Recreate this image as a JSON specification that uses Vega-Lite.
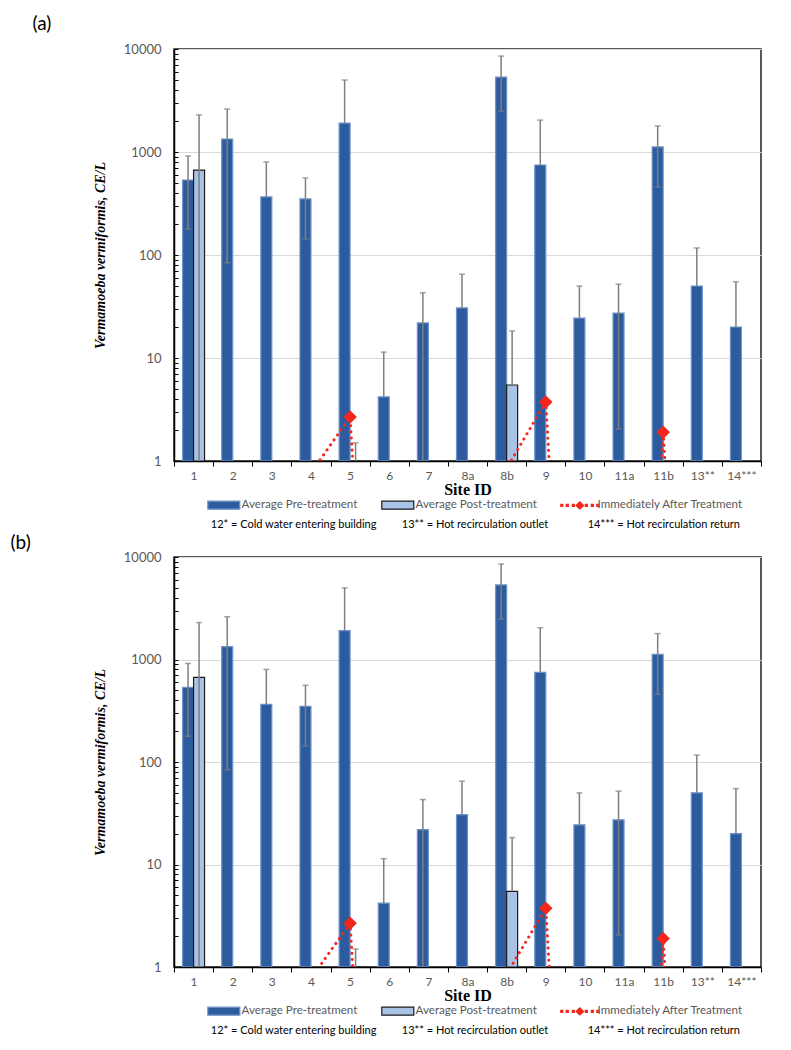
{
  "$schema": "https://vega.github.io/schema/vega-lite/v6.json",
  "background": "white",
  "padding": {"left": 10, "top": 15, "right": 5, "bottom": 5},
  "config": {
    "view": {"stroke": "#222222", "strokeWidth": 1.5},
    "font": "Lato",
    "legend": {"orient": "bottom", "direction": "horizontal"}
  },
  "datasets": {
    "bars": [
      {"site": "1", "series": "Average Pre-treatment", "value": 535, "lo": 178, "hi": 914},
      {"site": "1", "series": "Average Post-treatment", "value": 668, "lo": 0.5, "hi": 2290},
      {"site": "2", "series": "Average Pre-treatment", "value": 1337, "lo": 84, "hi": 2614},
      {"site": "3", "series": "Average Pre-treatment", "value": 366, "lo": 366, "hi": 800},
      {"site": "4", "series": "Average Pre-treatment", "value": 350, "lo": 143, "hi": 560},
      {"site": "5", "series": "Average Pre-treatment", "value": 1910, "lo": 1910, "hi": 5000},
      {"site": "5", "series": "Average Post-treatment", "value": 1, "lo": 1, "hi": 1.5},
      {"site": "6", "series": "Average Pre-treatment", "value": 4.2, "lo": 4.2, "hi": 11.4},
      {"site": "7", "series": "Average Pre-treatment", "value": 21.9, "lo": 0.5, "hi": 43},
      {"site": "8a", "series": "Average Pre-treatment", "value": 30.6, "lo": 30.6, "hi": 65},
      {"site": "8b", "series": "Average Pre-treatment", "value": 5340, "lo": 2490, "hi": 8540},
      {"site": "8b", "series": "Average Post-treatment", "value": 5.47, "lo": 5.47, "hi": 18.3},
      {"site": "9", "series": "Average Pre-treatment", "value": 748, "lo": 748, "hi": 2040},
      {"site": "10", "series": "Average Pre-treatment", "value": 24.4, "lo": 24.4, "hi": 50},
      {"site": "11a", "series": "Average Pre-treatment", "value": 27.3, "lo": 2.05, "hi": 52},
      {"site": "11b", "series": "Average Pre-treatment", "value": 1120, "lo": 457, "hi": 1790},
      {"site": "13**", "series": "Average Pre-treatment", "value": 50, "lo": 50, "hi": 117},
      {"site": "14***", "series": "Average Pre-treatment", "value": 20, "lo": 20, "hi": 55}
    ],
    "imm": [
      {"site": "1", "v": 0.000001},
      {"site": "2", "v": 0.000001},
      {"site": "3", "v": 0.000001},
      {"site": "4", "v": 0.77},
      {"site": "5", "v": 2.67},
      {"site": "6", "v": 0.000001},
      {"site": "7", "v": 0.000001},
      {"site": "8a", "v": 0.000001},
      {"site": "8b", "v": 0.85},
      {"site": "9", "v": 3.74},
      {"site": "10", "v": 0.000001},
      {"site": "11a", "v": 0.000001},
      {"site": "11b", "v": 1.9},
      {"site": "13**", "v": 0.000001},
      {"site": "14***", "v": 0.000001}
    ],
    "legend": [
      {"series": "Average Pre-treatment", "v": 0.000001},
      {"series": "Average Post-treatment", "v": 0.000001},
      {"series": "Immediately After Treatment", "v": 0.000001}
    ]
  },
  "spacing": 4,
  "resolve": {
    "scale": {"color": "independent", "stroke": "independent", "shape": "independent"},
    "legend": {"color": "independent", "stroke": "independent", "shape": "independent"}
  },
  "vconcat": [
    {
      "title": {"text": "(a)", "anchor": "start", "frame": "bounds", "font": "Lato", "fontSize": 19, "fontWeight": "normal", "color": "#000000", "dx": -60, "offset": 8},
      "resolve": {
        "scale": {"color": "independent", "stroke": "independent", "shape": "independent"},
        "legend": {"color": "independent", "stroke": "independent", "shape": "independent"}
      },
      "vconcat": [
        {
          "title": {"text": "12* = Cold water entering building\u00a0\u00a0\u00a0\u00a0\u00a0\u00a0\u00a0\u00a0\u00a013** = Hot recirculation outlet\u00a0\u00a0\u00a0\u00a0\u00a0\u00a0\u00a0\u00a0\u00a0\u00a0\u00a0\u00a0\u00a0\u00a014*** = Hot recirculation return", "orient": "bottom", "anchor": "middle", "frame": "bounds", "font": "Lato", "fontSize": 11, "fontWeight": "normal", "color": "#000000", "offset": 6, "dx": 48},
          "resolve": {
            "scale": {"color": "independent", "stroke": "independent", "shape": "independent"},
            "legend": {"color": "independent", "stroke": "independent", "shape": "independent"}
          },
          "vconcat": [
            {
              "width": 587,
              "height": 412,
              "encoding": {
                "x": {
                  "field": "site", "type": "ordinal",
                  "scale": {"domain": ["1","2","3","4","5","6","7","8a","8b","9","10","11a","11b","13**","14***"], "paddingInner": 0, "paddingOuter": 0},
                  "axis": {"title": "Site ID", "tickBand": "extent", "tickSize": 5, "tickColor": "#000000", "domainColor": "#000000", "domainWidth": 1.5, "labelAngle": 0, "labelColor": "#595959", "labelFont": "Lato", "labelFontSize": 12, "labelPadding": 4, "titleFont": "Liberation Serif", "titleFontWeight": "bold", "titleFontSize": 16, "titleColor": "#000000", "titlePadding": 0, "grid": false}
                }
              },
              "layer": [
                {
                  "data": {"name": "bars"},
                  "mark": {"type": "bar", "clip": true, "strokeWidth": 1.2},
                  "encoding": {
                    "xOffset": {"field": "series", "type": "nominal", "scale": {"domain": ["Average Pre-treatment", "Average Post-treatment"], "paddingInner": 0, "paddingOuter": 0.78}},
                    "y": {
                      "field": "value", "type": "quantitative",
                      "scale": {"type": "log", "domain": [1, 10000], "nice": false},
                      "axis": {
                        "title": "Vermamoeba vermiformis, CE/L",
                        "values": [1,2,3,4,5,6,7,8,9,10,20,30,40,50,60,70,80,90,100,200,300,400,500,600,700,800,900,1000,2000,3000,4000,5000,6000,7000,8000,9000,10000],
                        "labelExpr": "indexof([1,10,100,1000,10000], datum.value) >= 0 ? format(datum.value, 'd') : ''",
                        "tickSize": -4, "tickColor": "#000000", "domainColor": "#000000", "domainWidth": 1.5,
                        "labelColor": "#595959", "labelFont": "Lato", "labelFontSize": 13, "labelPadding": 17,
                        "grid": true, "gridColor": "#D9D9D9", "gridWidth": 1,
                        "gridOpacity": {"condition": {"test": "indexof([1,10,100,1000,10000], datum.value) >= 0", "value": 1}, "value": 0},
                        "titleFont": "Liberation Serif", "titleFontStyle": "italic", "titleFontWeight": "bold", "titleFontSize": 14, "titleColor": "#000000", "titlePadding": 16
                      }
                    },
                    "y2": {"datum": 1},
                    "color": {"field": "series", "type": "nominal", "scale": {"domain": ["Average Pre-treatment", "Average Post-treatment", "Immediately After Treatment"], "range": ["#2C5C9E", "#A9C3E7", "#F4261C"]}, "legend": {"title": "\u00a0\u00a0\u00a0\u00a0\u00a0\u00a0\u00a0\u00a0", "titleOrient": "left", "titleFontSize": 12, "titlePadding": 44, "orient": "bottom", "direction": "horizontal", "symbolSize": 64, "symbolStrokeWidth": 1.2, "labelFont": "Lato", "labelFontSize": 11.6, "labelColor": "#595959", "labelOffset": 12, "columnPadding": 21, "offset": 2, "padding": 0}},
                    "stroke": {"field": "series", "type": "nominal", "scale": {"domain": ["Average Pre-treatment", "Average Post-treatment", "Immediately After Treatment"], "range": ["#6F93C8", "#1A1A1A", "#F4261C"]}, "legend": {"title": "\u00a0\u00a0\u00a0\u00a0\u00a0\u00a0\u00a0\u00a0", "titleOrient": "left", "titleFontSize": 12, "titlePadding": 44, "orient": "bottom", "direction": "horizontal", "symbolSize": 64, "symbolStrokeWidth": 1.2, "labelFont": "Lato", "labelFontSize": 11.6, "labelColor": "#595959", "labelOffset": 12, "columnPadding": 21, "offset": 2, "padding": 0}}
                  }
                },
                {
                  "data": {"name": "bars"},
                  "mark": {"type": "rule", "clip": true, "color": "#7F7F7F", "strokeWidth": 1.5},
                  "encoding": {
                    "xOffset": {"field": "series", "type": "nominal"},
                    "y": {"field": "lo", "type": "quantitative"},
                    "y2": {"field": "hi"}
                  }
                },
                {
                  "data": {"name": "bars"},
                  "transform": [
                    {"fold": ["lo", "hi"], "as": ["end", "cap"]},
                    {"filter": "datum.end == 'hi' || (datum.cap < datum.value && datum.cap >= 1)"}
                  ],
                  "mark": {"type": "tick", "clip": true, "color": "#7F7F7F", "size": 6, "thickness": 1.5, "orient": "horizontal"},
                  "encoding": {
                    "xOffset": {"field": "series", "type": "nominal"},
                    "y": {"field": "cap", "type": "quantitative"}
                  }
                },
                {
                  "data": {"name": "imm"},
                  "mark": {"type": "line", "clip": true, "color": "#F4261C", "strokeWidth": 3, "strokeDash": [0.1, 6], "strokeCap": "round"},
                  "encoding": {
                    "y": {"field": "v", "type": "quantitative"}
                  }
                },
                {
                  "data": {"name": "imm"},
                  "transform": [{"filter": "datum.v >= 1"}],
                  "mark": {"type": "point", "shape": "diamond", "filled": true, "clip": true, "color": "#F4261C", "size": 180, "opacity": 1},
                  "encoding": {
                    "y": {"field": "v", "type": "quantitative"}
                  }
                },
                {
                  "data": {"name": "legend"},
                  "mark": {"type": "point", "filled": true, "clip": true, "opacity": 1},
                  "encoding": {
                    "y": {"field": "v", "type": "quantitative"},
                    "color": {"field": "series", "type": "nominal", "legend": {"title": "\u00a0\u00a0\u00a0\u00a0\u00a0\u00a0\u00a0\u00a0", "titleOrient": "left", "titleFontSize": 12, "titlePadding": 44, "orient": "bottom", "direction": "horizontal", "symbolSize": 64, "symbolStrokeWidth": 1.2, "labelFont": "Lato", "labelFontSize": 11.6, "labelColor": "#595959", "labelOffset": 12, "columnPadding": 21, "offset": 2, "padding": 0}},
                    "stroke": {"field": "series", "type": "nominal", "legend": {"title": "\u00a0\u00a0\u00a0\u00a0\u00a0\u00a0\u00a0\u00a0", "titleOrient": "left", "titleFontSize": 12, "titlePadding": 44, "orient": "bottom", "direction": "horizontal", "symbolSize": 64, "symbolStrokeWidth": 1.2, "labelFont": "Lato", "labelFontSize": 11.6, "labelColor": "#595959", "labelOffset": 12, "columnPadding": 21, "offset": 2, "padding": 0}},
                    "shape": {"field": "series", "type": "nominal", "scale": {"domain": ["Average Pre-treatment", "Average Post-treatment", "Immediately After Treatment"], "range": ["M-4,-1H4V1H-4Z", "M-4,-1H4V1H-4Z", "M-0.95,0L0,-0.9L0.95,0L0,0.9Z M-4.75,-0.27H-4.25V0.27H-4.75Z M-3.38,-0.27H-2.88V0.27H-3.38Z M-1.88,-0.27H-1.38V0.27H-1.88Z M1.38,-0.27H1.88V0.27H1.38Z M2.88,-0.27H3.38V0.27H2.88Z M4.25,-0.27H4.75V0.27H4.25Z"]}, "legend": {"title": "\u00a0\u00a0\u00a0\u00a0\u00a0\u00a0\u00a0\u00a0", "titleOrient": "left", "titleFontSize": 12, "titlePadding": 44, "orient": "bottom", "direction": "horizontal", "symbolSize": 64, "symbolStrokeWidth": 1.2, "labelFont": "Lato", "labelFontSize": 11.6, "labelColor": "#595959", "labelOffset": 12, "columnPadding": 21, "offset": 2, "padding": 0}}
                  }
                }
              ]
            }
          ]
        }
      ]
    },
    {
      "title": {"text": "(b)", "anchor": "start", "frame": "bounds", "font": "Lato", "fontSize": 19, "fontWeight": "normal", "color": "#000000", "dx": -82, "offset": -3},
      "resolve": {
        "scale": {"color": "independent", "stroke": "independent", "shape": "independent"},
        "legend": {"color": "independent", "stroke": "independent", "shape": "independent"}
      },
      "vconcat": [
        {
          "title": {"text": "12* = Cold water entering building\u00a0\u00a0\u00a0\u00a0\u00a0\u00a0\u00a0\u00a0\u00a013** = Hot recirculation outlet\u00a0\u00a0\u00a0\u00a0\u00a0\u00a0\u00a0\u00a0\u00a0\u00a0\u00a0\u00a0\u00a0\u00a014*** = Hot recirculation return", "orient": "bottom", "anchor": "middle", "frame": "bounds", "font": "Lato", "fontSize": 11, "fontWeight": "normal", "color": "#000000", "offset": 6, "dx": 48},
          "resolve": {
            "scale": {"color": "independent", "stroke": "independent", "shape": "independent"},
            "legend": {"color": "independent", "stroke": "independent", "shape": "independent"}
          },
          "vconcat": [
            {
              "width": 587,
              "height": 410,
              "encoding": {
                "x": {
                  "field": "site", "type": "ordinal",
                  "scale": {"domain": ["1","2","3","4","5","6","7","8a","8b","9","10","11a","11b","13**","14***"], "paddingInner": 0, "paddingOuter": 0},
                  "axis": {"title": "Site ID", "tickBand": "extent", "tickSize": 5, "tickColor": "#000000", "domainColor": "#000000", "domainWidth": 1.5, "labelAngle": 0, "labelColor": "#595959", "labelFont": "Lato", "labelFontSize": 12, "labelPadding": 4, "titleFont": "Liberation Serif", "titleFontWeight": "bold", "titleFontSize": 16, "titleColor": "#000000", "titlePadding": 0, "grid": false}
                }
              },
              "layer": [
                {
                  "data": {"name": "bars"},
                  "mark": {"type": "bar", "clip": true, "strokeWidth": 1.2},
                  "encoding": {
                    "xOffset": {"field": "series", "type": "nominal", "scale": {"domain": ["Average Pre-treatment", "Average Post-treatment"], "paddingInner": 0, "paddingOuter": 0.78}},
                    "y": {
                      "field": "value", "type": "quantitative",
                      "scale": {"type": "log", "domain": [1, 10000], "nice": false},
                      "axis": {
                        "title": "Vermamoeba vermiformis, CE/L",
                        "values": [1,2,3,4,5,6,7,8,9,10,20,30,40,50,60,70,80,90,100,200,300,400,500,600,700,800,900,1000,2000,3000,4000,5000,6000,7000,8000,9000,10000],
                        "labelExpr": "indexof([1,10,100,1000,10000], datum.value) >= 0 ? format(datum.value, 'd') : ''",
                        "tickSize": -4, "tickColor": "#000000", "domainColor": "#000000", "domainWidth": 1.5,
                        "labelColor": "#595959", "labelFont": "Lato", "labelFontSize": 13, "labelPadding": 17,
                        "grid": true, "gridColor": "#D9D9D9", "gridWidth": 1,
                        "gridOpacity": {"condition": {"test": "indexof([1,10,100,1000,10000], datum.value) >= 0", "value": 1}, "value": 0},
                        "titleFont": "Liberation Serif", "titleFontStyle": "italic", "titleFontWeight": "bold", "titleFontSize": 14, "titleColor": "#000000", "titlePadding": 16
                      }
                    },
                    "y2": {"datum": 1},
                    "color": {"field": "series", "type": "nominal", "scale": {"domain": ["Average Pre-treatment", "Average Post-treatment", "Immediately After Treatment"], "range": ["#2C5C9E", "#A9C3E7", "#F4261C"]}, "legend": {"title": "\u00a0\u00a0\u00a0\u00a0\u00a0\u00a0\u00a0\u00a0", "titleOrient": "left", "titleFontSize": 12, "titlePadding": 44, "orient": "bottom", "direction": "horizontal", "symbolSize": 64, "symbolStrokeWidth": 1.2, "labelFont": "Lato", "labelFontSize": 11.6, "labelColor": "#595959", "labelOffset": 12, "columnPadding": 21, "offset": 2, "padding": 0}},
                    "stroke": {"field": "series", "type": "nominal", "scale": {"domain": ["Average Pre-treatment", "Average Post-treatment", "Immediately After Treatment"], "range": ["#6F93C8", "#1A1A1A", "#F4261C"]}, "legend": {"title": "\u00a0\u00a0\u00a0\u00a0\u00a0\u00a0\u00a0\u00a0", "titleOrient": "left", "titleFontSize": 12, "titlePadding": 44, "orient": "bottom", "direction": "horizontal", "symbolSize": 64, "symbolStrokeWidth": 1.2, "labelFont": "Lato", "labelFontSize": 11.6, "labelColor": "#595959", "labelOffset": 12, "columnPadding": 21, "offset": 2, "padding": 0}}
                  }
                },
                {
                  "data": {"name": "bars"},
                  "mark": {"type": "rule", "clip": true, "color": "#7F7F7F", "strokeWidth": 1.5},
                  "encoding": {
                    "xOffset": {"field": "series", "type": "nominal"},
                    "y": {"field": "lo", "type": "quantitative"},
                    "y2": {"field": "hi"}
                  }
                },
                {
                  "data": {"name": "bars"},
                  "transform": [
                    {"fold": ["lo", "hi"], "as": ["end", "cap"]},
                    {"filter": "datum.end == 'hi' || (datum.cap < datum.value && datum.cap >= 1)"}
                  ],
                  "mark": {"type": "tick", "clip": true, "color": "#7F7F7F", "size": 6, "thickness": 1.5, "orient": "horizontal"},
                  "encoding": {
                    "xOffset": {"field": "series", "type": "nominal"},
                    "y": {"field": "cap", "type": "quantitative"}
                  }
                },
                {
                  "data": {"name": "imm"},
                  "mark": {"type": "line", "clip": true, "color": "#F4261C", "strokeWidth": 3, "strokeDash": [0.1, 6], "strokeCap": "round"},
                  "encoding": {
                    "y": {"field": "v", "type": "quantitative"}
                  }
                },
                {
                  "data": {"name": "imm"},
                  "transform": [{"filter": "datum.v >= 1"}],
                  "mark": {"type": "point", "shape": "diamond", "filled": true, "clip": true, "color": "#F4261C", "size": 180, "opacity": 1},
                  "encoding": {
                    "y": {"field": "v", "type": "quantitative"}
                  }
                },
                {
                  "data": {"name": "legend"},
                  "mark": {"type": "point", "filled": true, "clip": true, "opacity": 1},
                  "encoding": {
                    "y": {"field": "v", "type": "quantitative"},
                    "color": {"field": "series", "type": "nominal", "legend": {"title": "\u00a0\u00a0\u00a0\u00a0\u00a0\u00a0\u00a0\u00a0", "titleOrient": "left", "titleFontSize": 12, "titlePadding": 44, "orient": "bottom", "direction": "horizontal", "symbolSize": 64, "symbolStrokeWidth": 1.2, "labelFont": "Lato", "labelFontSize": 11.6, "labelColor": "#595959", "labelOffset": 12, "columnPadding": 21, "offset": 2, "padding": 0}},
                    "stroke": {"field": "series", "type": "nominal", "legend": {"title": "\u00a0\u00a0\u00a0\u00a0\u00a0\u00a0\u00a0\u00a0", "titleOrient": "left", "titleFontSize": 12, "titlePadding": 44, "orient": "bottom", "direction": "horizontal", "symbolSize": 64, "symbolStrokeWidth": 1.2, "labelFont": "Lato", "labelFontSize": 11.6, "labelColor": "#595959", "labelOffset": 12, "columnPadding": 21, "offset": 2, "padding": 0}},
                    "shape": {"field": "series", "type": "nominal", "scale": {"domain": ["Average Pre-treatment", "Average Post-treatment", "Immediately After Treatment"], "range": ["M-4,-1H4V1H-4Z", "M-4,-1H4V1H-4Z", "M-0.95,0L0,-0.9L0.95,0L0,0.9Z M-4.75,-0.27H-4.25V0.27H-4.75Z M-3.38,-0.27H-2.88V0.27H-3.38Z M-1.88,-0.27H-1.38V0.27H-1.88Z M1.38,-0.27H1.88V0.27H1.38Z M2.88,-0.27H3.38V0.27H2.88Z M4.25,-0.27H4.75V0.27H4.25Z"]}, "legend": {"title": "\u00a0\u00a0\u00a0\u00a0\u00a0\u00a0\u00a0\u00a0", "titleOrient": "left", "titleFontSize": 12, "titlePadding": 44, "orient": "bottom", "direction": "horizontal", "symbolSize": 64, "symbolStrokeWidth": 1.2, "labelFont": "Lato", "labelFontSize": 11.6, "labelColor": "#595959", "labelOffset": 12, "columnPadding": 21, "offset": 2, "padding": 0}}
                  }
                }
              ]
            }
          ]
        }
      ]
    }
  ]
}
